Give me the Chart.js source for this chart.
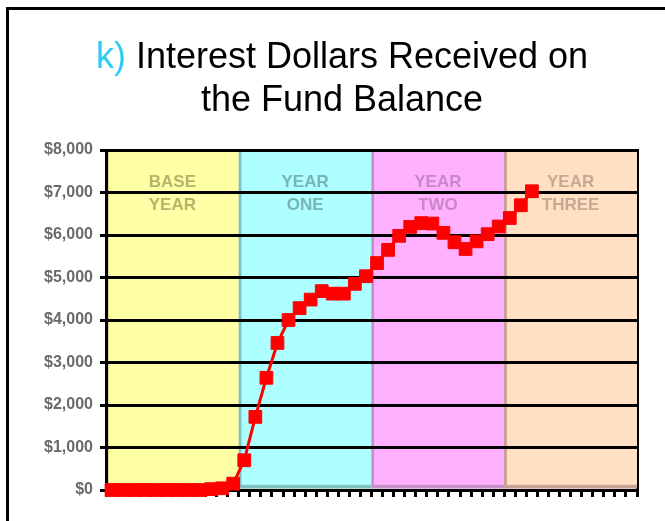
<!DOCTYPE html>
<html>
<head>
<meta charset="utf-8">
<script src="https://cdn.jsdelivr.net/npm/chart.js"></script>
<style>
  body { margin: 0; background: #fff; }
</style>
</head>
<body>
<canvas id="fundChart" width="665" height="521"></canvas>
<script>
/*---------------------------- data ------------------------------------*/
var months = ['1','2','3','4','5','6','7','8','9','10','11','12',
  '13','14','15','16','17','18','19','20','21','22','23','24',
  '25','26','27','28','29','30','31','32','33','34','35','36',
  '37','38','39','40','41','42','43','44','45','46','47','48'];
var periods = ['BASE YEAR', 'YEAR ONE', 'YEAR TWO', 'YEAR THREE'];
var periodTop = [8000, 8000, 8000, 8000];
var interest = [0, 0, 0, 0, 0, 0, 0, 0, 0, 20, 40, 150,
  700, 1720, 2640, 3460, 4000, 4280, 4480, 4680, 4620, 4620, 4850, 5030,
  5340, 5650, 5980, 6190, 6280, 6270, 6050, 5830, 5670, 5850, 6020, 6200,
  6400, 6700, 7030];
var yLabels = ['$0', '$1,000', '$2,000', '$3,000', '$4,000', '$5,000', '$6,000', '$7,000', '$8,000'];

/*---------------------------- styles ------------------------------------*/
var bandColors = ['#ffffa6', '#aeffff', '#ffb0ff', '#ffe0c2'];
var bandEdges = ['#cccc80', '#80c0c0', '#c890c8', '#c8a098'];
var labelColors = ['#b4b46a', '#78b4b4', '#c888c8', '#c4aa92'];

var extras = {
  id: 'extras',
  beforeDatasetDraw: function (chart, args) {
    if (args.meta.type !== 'line') return;
    var ctx = chart.ctx;
    // gridlines sit on top of the coloured year bands but under the line
    chart.scales.y.drawGrid(chart.chartArea);
    chart.scales.y.drawBorder();
    chart.scales.x.drawBorder();
    var bars = chart.getDatasetMeta(0).data;
    ctx.save();
    ctx.font = 'bold 17px "Liberation Sans", Arial, sans-serif';
    ctx.textAlign = 'center';
    ctx.textBaseline = 'middle';
    bars.forEach(function (bar, i) {
      var words = periods[i].split(' ');
      ctx.fillStyle = labelColors[i];
      ctx.fillText(words[0], bar.x, chart.chartArea.top + 32);
      ctx.fillText(words[1], bar.x, chart.chartArea.top + 55);
    });
    ctx.restore();
  },
  afterDraw: function (chart) {
    var ctx = chart.ctx;
    ctx.save();
    ctx.fillStyle = '#000';
    ctx.fillRect(6, 7, 3, 514);
    ctx.fillRect(6, 7, 659, 3);
    ctx.font = '36px "Liberation Sans", Arial, sans-serif';
    ctx.textBaseline = 'alphabetic';
    var pre = 'k)';
    var rest = ' Interest Dollars Received on';
    var w = ctx.measureText(pre + rest).width;
    var x0 = 342 - w / 2;
    ctx.fillStyle = '#2ecbf4';
    ctx.fillText(pre, x0, 68);
    ctx.fillStyle = '#000';
    ctx.fillText(rest, x0 + ctx.measureText(pre).width, 68);
    ctx.textAlign = 'center';
    ctx.fillText('the Fund Balance', 342, 111);
    ctx.restore();
  }
};

new Chart('fundChart', {
  type: 'line',
  data: {
    datasets: [{
      type: 'bar',
      data: periodTop,
      xAxisID: 'xb',
      yAxisID: 'y',
      backgroundColor: bandColors,
      borderColor: bandEdges,
      borderWidth: {left: 3, bottom: 4, top: 0, right: 0},
      borderSkipped: false,
      grouped: false,
      barPercentage: 1,
      categoryPercentage: 1,
      order: 2
    }, {
      type: 'line',
      data: interest,
      xAxisID: 'x',
      yAxisID: 'y',
      borderColor: '#ff0000',
      backgroundColor: '#ff0000',
      borderWidth: 3,
      pointStyle: 'rect',
      pointRadius: 9,
      pointBorderWidth: 1,
      pointBackgroundColor: '#ff0000',
      pointBorderColor: '#ff0000',
      tension: 0,
      clip: false,
      order: 1
    }]
  },
  options: {
    responsive: false,
    animation: false,
    layout: {padding: {top: 150, right: 28, bottom: 0, left: 0}},
    plugins: {
      legend: {display: false},
      title: {display: false},
      tooltip: {enabled: false}
    },
    scales: {
      x: {
        type: 'category',
        labels: months,
        offset: true,
        grid: {display: true, drawOnChartArea: false, offset: true, color: '#000', lineWidth: 3, tickLength: 7},
        border: {display: true, color: '#000', width: 3},
        ticks: {display: false},
        afterFit: function (s) { s.height = 31; }
      },
      xb: {
        type: 'category',
        labels: periods,
        offset: true,
        display: false
      },
      y: {
        min: 0,
        max: 8000,
        ticks: {
          stepSize: 1000,
          padding: 7,
          color: '#6a6a6a',
          font: {family: '"Liberation Sans", Arial, sans-serif', size: 16, weight: 'bold'},
          callback: function (v, i) { return yLabels[i]; }
        },
        grid: {color: '#000', lineWidth: 3, tickLength: 6},
        border: {display: true, color: '#000', width: 3},
        afterFit: function (s) { s.width = 106; }
      },
      yr: {
        position: 'right',
        min: 0,
        max: 8000,
        z: 1,
        ticks: {display: false},
        grid: {display: false, drawTicks: false},
        border: {display: true, color: '#000', width: 3},
        afterFit: function (s) { s.width = 0; }
      }
    }
  },
  plugins: [extras]
});
</script>
</body>
</html>
